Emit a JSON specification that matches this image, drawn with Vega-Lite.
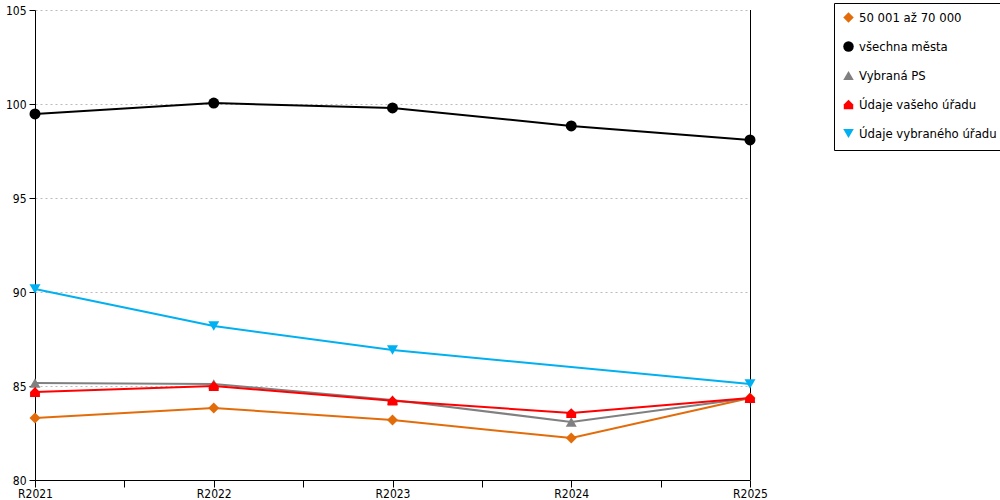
{
  "$schema": "https://vega.github.io/schema/vega-lite/v6.json",
  "width": 715,
  "height": 470,
  "autosize": "none",
  "padding": {"left": 35, "top": 10, "right": 250, "bottom": 20},
  "background": "white",
  "data": {
    "values": [
      {"serie": "50 001 až 70 000", "rok": 2021, "hodnota": 83.3},
      {"serie": "50 001 až 70 000", "rok": 2022, "hodnota": 83.83},
      {"serie": "50 001 až 70 000", "rok": 2023, "hodnota": 83.19},
      {"serie": "50 001 až 70 000", "rok": 2024, "hodnota": 82.23},
      {"serie": "50 001 až 70 000", "rok": 2025, "hodnota": 84.36},
      {"serie": "všechna města", "rok": 2021, "hodnota": 99.47},
      {"serie": "všechna města", "rok": 2022, "hodnota": 100.05},
      {"serie": "všechna města", "rok": 2023, "hodnota": 99.79},
      {"serie": "všechna města", "rok": 2024, "hodnota": 98.83},
      {"serie": "všechna města", "rok": 2025, "hodnota": 98.09},
      {"serie": "Vybraná PS", "rok": 2021, "hodnota": 85.16},
      {"serie": "Vybraná PS", "rok": 2022, "hodnota": 85.11},
      {"serie": "Vybraná PS", "rok": 2023, "hodnota": 84.26},
      {"serie": "Vybraná PS", "rok": 2024, "hodnota": 83.09},
      {"serie": "Vybraná PS", "rok": 2025, "hodnota": 84.36},
      {"serie": "Údaje vašeho úřadu", "rok": 2021, "hodnota": 84.68},
      {"serie": "Údaje vašeho úřadu", "rok": 2022, "hodnota": 85.0},
      {"serie": "Údaje vašeho úřadu", "rok": 2023, "hodnota": 84.22},
      {"serie": "Údaje vašeho úřadu", "rok": 2024, "hodnota": 83.56},
      {"serie": "Údaje vašeho úřadu", "rok": 2025, "hodnota": 84.36},
      {"serie": "Údaje vybraného úřadu", "rok": 2021, "hodnota": 90.16},
      {"serie": "Údaje vybraného úřadu", "rok": 2022, "hodnota": 88.19},
      {"serie": "Údaje vybraného úřadu", "rok": 2023, "hodnota": 86.91},
      {"serie": "Údaje vybraného úřadu", "rok": 2025, "hodnota": 85.11}
    ]
  },
  "encoding": {
    "x": {
      "field": "rok",
      "type": "quantitative",
      "scale": {"domain": [2021, 2025], "nice": false, "zero": false},
      "axis": {
        "title": null,
        "values": [2021, 2021.5, 2022, 2022.5, 2023, 2023.5, 2024, 2024.5, 2025],
        "labelExpr": "datum.value % 1 == 0 ? 'R' + datum.value : ''",
        "grid": false,
        "domainColor": "black",
        "tickColor": "black",
        "tickSize": 7,
        "labelPadding": 1,
        "labelFlush": false,
        "labelOverlap": false
      }
    },
    "y": {
      "field": "hodnota",
      "type": "quantitative",
      "scale": {"domain": [80, 105], "nice": false, "zero": false},
      "axis": {
        "title": null,
        "values": [80, 85, 90, 95, 100, 105],
        "domainColor": "black",
        "tickColor": "black",
        "tickSize": 6,
        "labelPadding": 3,
        "gridColor": "#bbbbbb",
        "gridDash": [2, 3],
        "gridWidth": 1
      }
    }
  },
  "layer": [
    {
      "mark": {"type": "rule", "color": "black", "strokeWidth": 1, "xOffset": 0.5},
      "encoding": {
        "x": {"datum": 2025},
        "y": {"datum": 80},
        "y2": {"datum": 105}
      }
    },
    {
      "mark": {"type": "line", "strokeWidth": 2},
      "encoding": {
        "stroke": {
          "field": "serie",
          "type": "nominal",
          "legend": null,
          "scale": {
            "domain": ["Údaje vybraného úřadu", "Údaje vašeho úřadu", "Vybraná PS", "všechna města", "50 001 až 70 000"],
            "range": ["#00b0f0", "#ff0000", "#808080", "#000000", "#e36c0a"]
          }
        }
      }
    },
    {
      "mark": {"type": "point", "filled": true, "opacity": 1, "size": 120},
      "encoding": {
        "color": {
          "field": "serie",
          "type": "nominal",
          "title": null,
          "scale": {
            "domain": ["50 001 až 70 000", "všechna města", "Vybraná PS", "Údaje vašeho úřadu", "Údaje vybraného úřadu"],
            "range": ["#e36c0a", "#000000", "#808080", "#ff0000", "#00b0f0"]
          },
          "legend": {
            "orient": "none",
            "legendX": 799,
            "legendY": -7,
            "strokeColor": "black",
            "fillColor": "white",
            "padding": 8,
            "symbolSize": 110,
            "symbolOpacity": 1,
            "labelFontSize": 13,
            "labelColor": "black",
            "rowPadding": 12,
            "labelOffset": 4,
            "labelLimit": 200
          }
        },
        "shape": {
          "field": "serie",
          "type": "nominal",
          "title": null,
          "scale": {
            "domain": ["50 001 až 70 000", "všechna města", "Vybraná PS", "Údaje vašeho úřadu", "Údaje vybraného úřadu"],
            "range": ["diamond", "circle", "triangle-up", "M-0.9,0 L0,-0.9 L0.9,0 L0.9,0.9 L-0.9,0.9 Z", "triangle-down"]
          }
        }
      }
    }
  ],
  "config": {
    "font": "DejaVu Sans Condensed",
    "view": {"stroke": null},
    "axis": {"labelFontSize": 12, "labelColor": "black", "domainWidth": 1, "tickWidth": 1}
  }
}
